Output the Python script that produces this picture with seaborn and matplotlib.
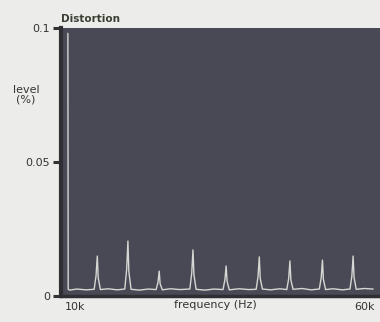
import matplotlib
matplotlib.use('Agg')
import matplotlib.pyplot as plt
import seaborn as sns
import pandas as pd

# trace: frequency in kHz, level in %
freq_khz = [10.6, 10.65, 10.9, 12.0, 13.5, 14.8, 15.1, 15.3, 15.45, 15.8,
            17.0, 18.5, 19.7, 20.0, 20.2, 20.35, 20.7, 22.0, 23.5, 24.7,
            25.0, 25.2, 25.35, 25.7, 27.0, 28.5, 30.1, 30.4, 30.6, 30.75,
            31.1, 32.5, 34.0, 35.4, 35.7, 35.9, 36.05, 36.4, 38.0, 39.5,
            40.7, 41.0, 41.2, 41.35, 41.7, 43.0, 44.5, 45.6, 45.9, 46.1,
            46.25, 46.6, 48.0, 49.5, 50.8, 51.1, 51.3, 51.45, 51.8, 53.0,
            54.5, 55.7, 56.0, 56.2, 56.35, 56.7, 58.0, 59.4]
level = [0.098, 0.0025, 0.0022, 0.0026, 0.0023, 0.0025, 0.0075, 0.0149, 0.0068, 0.0024,
         0.0027, 0.0023, 0.0026, 0.0100, 0.0205, 0.0090, 0.0025, 0.0022, 0.0026, 0.0024,
         0.0050, 0.0093, 0.0045, 0.0023, 0.0027, 0.0024, 0.0026, 0.0085, 0.0172, 0.0080,
         0.0025, 0.0022, 0.0026, 0.0024, 0.0060, 0.0112, 0.0055, 0.0023, 0.0027, 0.0024,
         0.0025, 0.0072, 0.0146, 0.0066, 0.0026, 0.0023, 0.0027, 0.0024, 0.0065, 0.0131,
         0.0060, 0.0025, 0.0028, 0.0023, 0.0026, 0.0068, 0.0134, 0.0062, 0.0024, 0.0027,
         0.0023, 0.0026, 0.0074, 0.0149, 0.0070, 0.0025, 0.0028, 0.0026]

x_tick_pos = [11.7, 58.1]
x_tick_labels = ['10k', '60k']
y_ticks = [0, 0.05, 0.1]
y_tick_labels = ['0', '0.05', '0.1']

df = pd.DataFrame({'freq': freq_khz, 'level': level})

sns.set_style('white')
plt.rcParams['font.family'] = ['DejaVu Sans']

fig = plt.figure(figsize=(3.8, 3.22), dpi=100)
fig.patch.set_facecolor('#ececea')
ax = fig.add_axes([61 / 380, 26 / 322, 319 / 380, 268 / 322])
ax.set_facecolor('#494955')

sns.lineplot(data=df, x='freq', y='level', ax=ax, sort=False, estimator=None,
             color='#d6d6d3', linewidth=1.0)

ax.set_xlim(9.5, 60.5)
ax.set_ylim(0, 0.1)

ax.set_xticks(x_tick_pos)
ax.set_xticklabels(x_tick_labels)
ax.set_yticks(y_ticks)
ax.set_yticklabels(y_tick_labels)
ax.tick_params(axis='x', bottom=False, length=0, labelsize=8, colors='#333333', pad=4)
ax.tick_params(axis='y', left=True, length=6, width=2.2, labelsize=8,
               colors='#333333', direction='out', pad=2)

ax.set_xlabel('frequency (Hz)', fontsize=8, color='#333333')
ax.xaxis.set_label_coords(0.483, -0.015)
ax.xaxis.label.set_va('top')
ax.set_ylabel('level\n(%)', fontsize=8, color='#333333', rotation=0,
              linespacing=0.95)
ax.yaxis.set_label_coords(-0.11, 0.75)
ax.yaxis.label.set_va('center')

ax.text(0.0, 1.015, 'Distortion', transform=ax.transAxes, fontsize=7.5,
        fontweight='bold', color='#3a3f34', ha='left', va='bottom')

for side in ['top', 'right']:
    ax.spines[side].set_visible(False)
ax.spines['left'].set_color('#2e2e33')
ax.spines['left'].set_linewidth(3)
ax.spines['bottom'].set_color('#2e2e33')
ax.spines['bottom'].set_linewidth(2.5)
ax.grid(False)

fig.savefig('out.png', dpi=100, facecolor=fig.get_facecolor())
